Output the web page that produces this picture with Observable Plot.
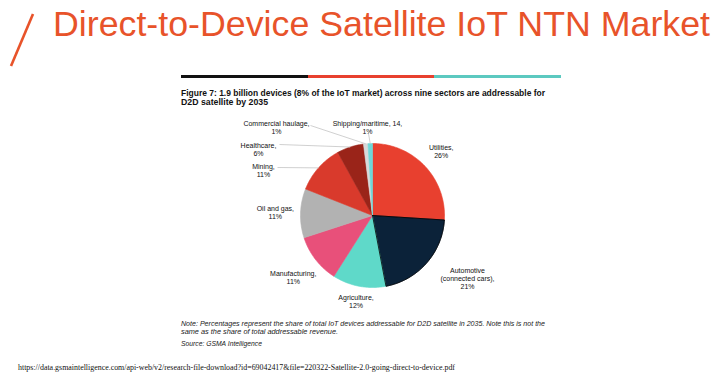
<!DOCTYPE html>
<html>
<head>
<meta charset="utf-8">
<script src="https://cdn.jsdelivr.net/npm/d3@7"></script>
<script src="https://cdn.jsdelivr.net/npm/@observablehq/plot@0.6"></script>
<style>
  html, body { margin: 0; padding: 0; background: #fff; }
  body { width: 720px; height: 380px; position: relative; overflow: hidden; font-family: "Liberation Sans", Arial, sans-serif; }
  #deco { position: absolute; left: 0; top: 0; }
  #pie { position: absolute; left: 222px; top: 105px; }
</style>
</head>
<body>
<svg id="deco" width="720" height="380" xmlns="http://www.w3.org/2000/svg">
  <line x1="33" y1="14" x2="11" y2="66" stroke="#E8532A" stroke-width="2.6"/>
  <text x="53" y="36" font-family="Liberation Sans, Arial, sans-serif" font-size="35" fill="#E8532A" textLength="657" lengthAdjust="spacingAndGlyphs">Direct-to-Device Satellite IoT NTN Market</text>
  <rect x="181" y="75" width="127" height="3" fill="#111"/>
  <rect x="308" y="75" width="126" height="3" fill="#E8402F"/>
  <rect x="434" y="75" width="127" height="3" fill="#5CC9C0"/>
  <g font-family="Liberation Sans, Arial, sans-serif" font-weight="bold" font-size="8.5" fill="#111">
    <text x="181" y="96" textLength="364" lengthAdjust="spacingAndGlyphs">Figure 7: 1.9 billion devices (8% of the IoT market) across nine sectors are addressable for</text>
    <text x="181" y="104.5" textLength="87" lengthAdjust="spacingAndGlyphs">D2D satellite by 2035</text>
  </g>
  <g font-family="Liberation Sans, Arial, sans-serif" font-style="italic" font-size="7.2" fill="#1a1a1a">
    <text x="181" y="326" textLength="364" lengthAdjust="spacingAndGlyphs">Note: Percentages represent the share of total IoT devices addressable for D2D satellite in 2035. Note this is not the</text>
    <text x="181" y="334" textLength="157" lengthAdjust="spacingAndGlyphs">same as the share of total addressable revenue.</text>
    <text x="181" y="346" textLength="81" lengthAdjust="spacingAndGlyphs">Source: GSMA Intelligence</text>
  </g>
  <text x="18" y="370" font-family="Liberation Serif, DejaVu Serif, serif" font-size="8.5" fill="#111" textLength="437" lengthAdjust="spacingAndGlyphs">https://data.gsmaintelligence.com/api-web/v2/research-file-download?id=69042417&amp;file=220322-Satellite-2.0-going-direct-to-device.pdf</text>
</svg>
<div id="pie"></div>
<script>
// ---- data ----
const sectors = ["Utilities", "Automotive", "Agriculture", "Manufacturing", "Oil and gas", "Mining", "Healthcare", "Commercial haulage", "Shipping/maritime"];
const shares = [26, 21, 12, 11, 11, 11, 6, 1, 1];
const labels = ["Utilities,\n26%", "Automotive\n(connected cars),\n21%", "Agriculture,\n12%", "Manufacturing,\n11%", "Oil and gas,\n11%", "Mining,\n11%", "Healthcare,\n6%", "Commercial haulage,\n1%", "Shipping/maritime, 14,\n1%"];
const palette = ["#E8402F", "#0B2239", "#5FD9C9", "#E8507A", "#B2B2B2", "#D93A2C", "#9A2419", "#D9D9D9", "#6ED8D8"];

// ---- layout ----
const R = 72;            // pie radius in px
const W = 300, H = 220;  // svg size, pie centred
const total = d3.sum(shares);
let acc = 0;
const slices = sectors.map((s, i) => {
  const a0 = acc / total * 2 * Math.PI;
  acc += shares[i];
  const a1 = acc / total * 2 * Math.PI;
  return {sector: s, value: shares[i], a0, a1, mid: (a0 + a1) / 2, label: labels[i]};
});

// wedge outlines
const pts = [];
for (const sl of slices) {
  pts.push({sector: sl.sector, x: 0, y: 0});
  const n = Math.max(2, Math.ceil((sl.a1 - sl.a0) / (Math.PI / 180)));
  for (let k = 0; k <= n; k++) {
    const a = sl.a0 + (sl.a1 - sl.a0) * k / n;
    pts.push({sector: sl.sector, x: Math.sin(a), y: Math.cos(a)});
  }
  pts.push({sector: sl.sector, x: 0, y: 0});
}

// label placement: outside end for large wedges, moved labels (with leader lines) for crowded ones
const placed = {
  "Automotive": {c: [95, 63]},
  "Mining": {c: [-109, -45], s: [-95, -48]},
  "Healthcare": {c: [-114, -66], s: [-93, -71]},
  "Commercial haulage": {c: [-96, -88], s: [-62, -90]},
  "Shipping/maritime": {c: [-5, -88], s: [-4, -82]}
};
const fs = 7;
for (const sl of slices) {
  const lines = sl.label.split("\n");
  const w = d3.max(lines, l => l.length) * fs * 0.5;
  const h = lines.length * fs * 1.15;
  const sa = Math.sin(sl.mid), ca = Math.cos(sl.mid);
  const lp = placed[sl.sector];
  if (lp) {
    sl.lx = lp.c[0] / R; sl.ly = -lp.c[1] / R;
    if (lp.s) {
      sl.sx = lp.s[0] / R; sl.sy = -lp.s[1] / R;
      sl.ex = sa; sl.ey = ca;
      sl.leader = true;
    }
  } else {
    const rr = (R + 4 + (w / 2) * Math.abs(sa) + (h / 2) * Math.abs(ca)) / R;
    sl.lx = sa * rr; sl.ly = ca * rr;
  }
}

const chart = Plot.plot({
  width: W,
  height: H,
  margin: 0,
  x: {domain: [-W / 2 / R, W / 2 / R], axis: null},
  y: {domain: [-H / 2 / R, H / 2 / R], axis: null},
  color: {domain: sectors, range: palette},
  style: {background: "transparent", fontFamily: "Liberation Sans, Arial, sans-serif"},
  marks: [
    Plot.line(pts, {x: "x", y: "y", z: "sector", fill: "sector", stroke: "sector", strokeWidth: 0.6, curve: "linear"}),
    Plot.line(pts.filter(d => d.sector === "Automotive"), {x: "x", y: "y", stroke: "#000", strokeWidth: 0.8, fill: "none", curve: "linear"}),
    Plot.link(slices.filter(d => d.leader), {x1: "sx", y1: "sy", x2: "ex", y2: "ey", stroke: "#C4C4C4", strokeWidth: 0.8}),
    Plot.text(slices, {x: "lx", y: "ly", text: "label", fontSize: fs, lineHeight: 1.15, fill: "#111", textAnchor: "middle", fontFamily: "Liberation Sans, Arial, sans-serif"})
  ]
});
document.getElementById("pie").appendChild(chart);
</script>
</body>
</html>
